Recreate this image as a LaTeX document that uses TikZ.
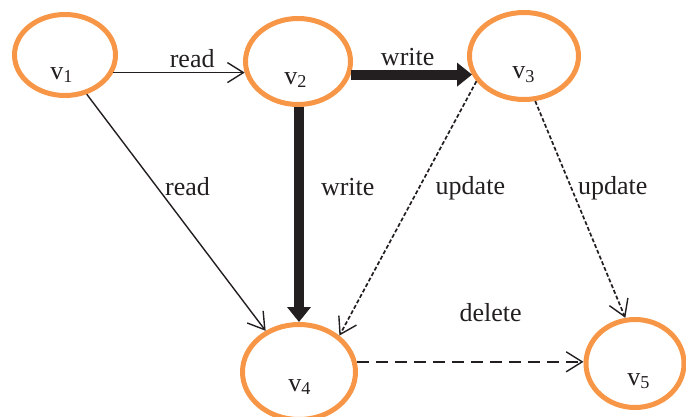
\documentclass[tikz,border=0pt]{standalone}
\usepackage{fontspec}
\setmainfont{Liberation Serif}
\usetikzlibrary{shapes.geometric,arrows.meta}
\definecolor{vorange}{RGB}{247,150,70}
\definecolor{edgeblack}{RGB}{35,31,32}
\tikzset{
  vert/.style={ellipse, draw=vorange, line width=2.5pt, inner sep=0pt, fill=none},
  vlab/.style={inner sep=0pt, font=\fontsize{13}{15}\selectfont, text=edgeblack},
  elab/.style={inner sep=1pt, font=\fontsize{13}{15}\selectfont, text=edgeblack},
  thin/.style={draw=edgeblack, line width=0.7pt, -{Straight Barb[length=8pt,width=10pt,line width=0.7pt]}},
  thick/.style={draw=edgeblack, line width=5pt, -{Triangle[length=7.5pt,width=11.5pt]}},
  smalldash/.style={thin, line width=0.85pt, dash pattern=on 2pt off 1.1pt},
  longdash/.style={thin, dash pattern=on 6pt off 3.5pt},
}
\begin{document}
\begin{tikzpicture}[x=0.5pt,y=-0.5pt]
\useasboundingbox (0,0) rectangle (686,417);
\node[vert, minimum width=50.5pt, minimum height=40.5pt] (v1) at (65,55) {};
\node[vert, minimum width=52.5pt, minimum height=43pt] (v2) at (298,61.5) {};
\node[vert, minimum width=54.5pt, minimum height=43.5pt] (v3) at (524,56) {};
\node[vert, minimum width=56.5pt, minimum height=47.5pt] (v4) at (299,372) {};
\node[vert, minimum width=49pt, minimum height=44pt] (v5) at (635,363.5) {};
\node[vlab] (t1) at (62,75) {v\textsubscript{1}};
\node[vlab] (t2) at (296,80) {v\textsubscript{2}};
\node[vlab] (t3) at (524,75) {v\textsubscript{3}};
\node[vlab] (t4) at (300,387) {v\textsubscript{4}};
\node[vlab] (t5) at (639,381) {v\textsubscript{5}};

\draw[thin] (v1.-20) -- (v2.192 |- v1.-20) node[elab, pos=0.6, above=1pt] (l12) {read};
\draw[thick] (v2.-14) -- (v3.200 |- v2.-14) node[elab, pos=0.47, above=1pt] (l23) {write};
\draw[thick] (v2.south -| v4.north) -- (v4.north) node[elab, pos=0.37, right=7.5pt] (l24) {write};
\draw[thin] (v1.-61) -- (v4.129) node[elab, pos=0.39, right=3pt] (l14) {read};
\draw[smalldash] (v3.208) -- (v4.42) node[elab, pos=0.42, right=7pt] (l34) {update};
\draw[smalldash] (v3.-76) -- (v5.102) node[elab, pos=0.40, right=2pt] (l35) {update};
\draw[longdash] (v4.10) -- (v5.west |- v4.10) node[elab, pos=0.59, above=18.5pt] (l45) {delete};
\end{tikzpicture}
\end{document}
